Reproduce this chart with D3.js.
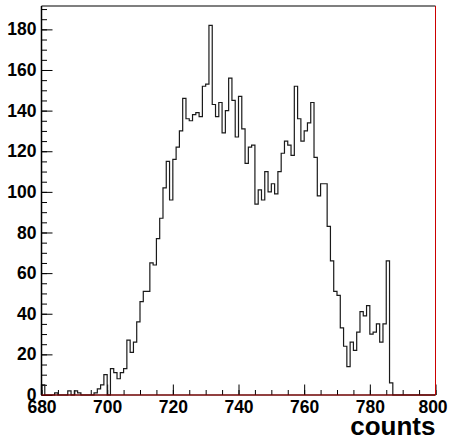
<!DOCTYPE html>
<html>
<head>
<meta charset="utf-8">
<script src="https://cdn.jsdelivr.net/npm/d3@7"></script>
<style>
  html, body { margin: 0; padding: 0; background: #fff; }
  svg { display: block; }
  text { font-family: "Liberation Sans", Arial, sans-serif; font-weight: bold; }
</style>
</head>
<body>
<svg id="chart" width="451" height="443"></svg>
<script>
// ---- data ----
const binStart = 680;          // first bin low edge
const binWidth = 1;            // bin width
const counts = [
  5, 0, 0, 0, 1, 0, 0, 0, 2, 0,          // 680-689
  2, 1, 0, 0, 0, 0, 1, 3, 5, 10,         // 690-699
  0, 13, 11, 8, 11, 13, 27, 21, 26, 36,  // 700-709
  46, 51, 51, 65, 64, 77, 87, 102, 115, 96, // 710-719
  116, 122, 130, 146, 136, 135, 138, 139, 137, 152, // 720-729
  153, 182, 143, 137, 144, 129, 140, 156, 145, 127, // 730-739
  147, 131, 114, 122, 123, 94, 101, 96, 110, 100,   // 740-749
  104, 99, 110, 119, 125, 123, 118, 152, 136, 125,  // 750-759
  130, 134, 144, 117, 98, 104, 104, 83, 66, 51,     // 760-769
  49, 33, 24, 14, 26, 22, 31, 41, 39, 44,           // 770-779
  30, 31, 35, 26, 35, 66, 6, 0, 0, 0,               // 780-789
  0, 0, 0, 0, 0, 0, 0, 0, 0, 0                      // 790-799
];
const xDomain = [680, 800];
const yDomain = [0, 191.5];
const xMajorTicks = [680, 700, 720, 740, 760, 780, 800];
const yMajorTicks = [0, 20, 40, 60, 80, 100, 120, 140, 160, 180];
const xTitle = "counts";

// ---- layout ----
const svg = d3.select("#chart");
const L = 41.5, R = 435.5, T = 6, B = 395;

const x = d3.scaleLinear().domain(xDomain).range([L, R]);
const y = d3.scaleLinear().domain(yDomain).range([B, T]);

const xMinor = d3.range(xDomain[0], xDomain[1] + 0.001, 5);
const yMinor = d3.range(0, 191, 5);

// minor ticks
svg.append("g").attr("transform", `translate(0,${B})`)
  .call(d3.axisBottom(x).tickValues(xMinor).tickSizeInner(-5).tickSizeOuter(0).tickFormat(""))
  .call(g => g.select(".domain").remove())
  .call(g => g.selectAll("line").attr("stroke", "#000"));
svg.append("g").attr("transform", `translate(${L},0)`)
  .call(d3.axisLeft(y).tickValues(yMinor).tickSizeInner(-5.5).tickSizeOuter(0).tickFormat(""))
  .call(g => g.select(".domain").remove())
  .call(g => g.selectAll("line").attr("stroke", "#000"));

// major ticks with labels
const gx = svg.append("g").attr("transform", `translate(0,${B})`)
  .call(d3.axisBottom(x).tickValues(xMajorTicks).tickSizeInner(-10.5).tickSizeOuter(0).tickPadding(6).tickFormat(d3.format("d")))
  .call(g => g.select(".domain").remove());
gx.selectAll("line").attr("stroke", "#000");
gx.selectAll("text").attr("font-size", 17.5).attr("font-family", "Liberation Sans, Arial, sans-serif")
  .attr("font-weight", "bold").attr("fill", "#000")
  .attr("dx", d => d === 800 ? -3 : 0);

const gy = svg.append("g").attr("transform", `translate(${L},0)`)
  .call(d3.axisLeft(y).tickValues(yMajorTicks).tickSizeInner(-11).tickSizeOuter(0).tickPadding(5).tickFormat(d3.format("d")))
  .call(g => g.select(".domain").remove());
gy.selectAll("line").attr("stroke", "#000");
gy.selectAll("text").attr("font-size", 17.5).attr("font-family", "Liberation Sans, Arial, sans-serif")
  .attr("font-weight", "bold").attr("fill", "#000");

// histogram outline
const pts = counts.map((c, i) => [binStart + i * binWidth, c]);
pts.push([binStart + counts.length * binWidth, counts[counts.length - 1]]);
const line = d3.line().x(d => x(d[0])).y(d => y(d[1])).curve(d3.curveStepAfter);
svg.append("path")
  .attr("d", line([[binStart, 0]].concat(pts)))
  .attr("fill", "none").attr("stroke", "#1a1a1a").attr("stroke-width", 1.2);

// frame
svg.append("line").attr("x1", L).attr("x2", R).attr("y1", T).attr("y2", T)
  .attr("stroke", "#555").attr("stroke-width", 1.5);
svg.append("line").attr("x1", R).attr("x2", R).attr("y1", T).attr("y2", B)
  .attr("stroke", "#cc0000").attr("stroke-width", 1);
svg.append("line").attr("x1", L).attr("x2", L).attr("y1", T).attr("y2", B)
  .attr("stroke", "#000").attr("stroke-width", 1.5);
svg.append("line").attr("x1", L).attr("x2", R).attr("y1", B).attr("y2", B)
  .attr("stroke", "#6e0000").attr("stroke-width", 1.6);

// axis title
svg.append("text").attr("x", R).attr("y", 435).attr("text-anchor", "end")
  .attr("font-size", 26).attr("fill", "#000").text(xTitle);
</script>
</body>
</html>
